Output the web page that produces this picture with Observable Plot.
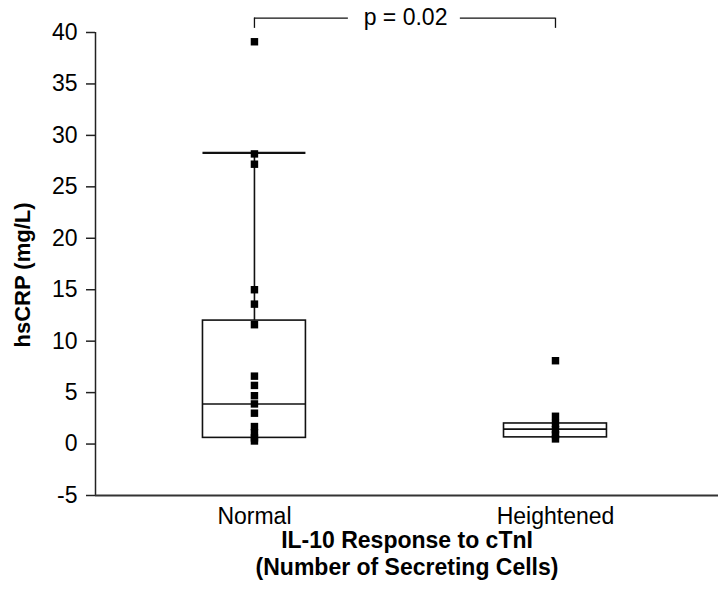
<!DOCTYPE html>
<html>
<head>
<meta charset="utf-8">
<script src="https://cdn.jsdelivr.net/npm/d3@7"></script>
<script src="https://cdn.jsdelivr.net/npm/@observablehq/plot@0.6"></script>
<style>
  html, body { margin: 0; padding: 0; background: #fff; }
</style>
</head>
<body>
<div id="chart"></div>
<script>
// ---- Data ----
const categories = ["Normal", "Heightened"];
const normalValues = [39.1, 28.2, 27.2, 15.0, 13.6, 11.6, 6.6, 5.7, 4.7, 3.9, 3.0, 1.7, 1.1, 0.6, 0.3];
const heightenedValues = [8.1, 2.7, 2.0, 1.4, 0.9, 0.5];
const boxQ1 = [0.6, 0.65];
const boxMedian = [3.9, 1.45];
const boxQ3 = [12.0, 2.0];
const whiskerHigh = [28.3, null];
const yTicks = [-5, 0, 5, 10, 15, 20, 25, 30, 35, 40];
const pLabel = "p = 0.02";
const yTitle = "hsCRP (mg/L)";
const xTitle = "IL-10 Response to cTnI\n(Number of Secreting Cells)";

// ---- Derived tables ----
const points = [
  ...normalValues.map(v => ({group: categories[0], value: v})),
  ...heightenedValues.map(v => ({group: categories[1], value: v}))
];
const boxes = categories.map((c, i) => ({i, q1: boxQ1[i], median: boxMedian[i], q3: boxQ3[i], hi: whiskerHigh[i]}));
const whiskers = boxes.filter(d => d.hi != null);
const idx = c => categories.indexOf(c);

const xMin = -0.528, xMax = 1.5415;
const hw = 0.171;
const bracketY = 41.4, bracketTick = 40.4;

const chart = Plot.plot({
  width: 726,
  height: 603,
  marginLeft: 95,
  marginRight: 8,
  marginTop: 32,
  marginBottom: 108,
  style: {fontFamily: "'Liberation Sans', Arial, sans-serif", fontSize: "23px", color: "#000", background: "#fff"},
  x: {domain: [xMin, xMax], axis: null},
  y: {domain: [-5, 40], axis: null},
  marks: [
    Plot.axisY(yTicks, {tickSize: 9, tickPadding: 9, fontSize: 23, tickFormat: d => String(d), label: null, strokeWidth: 1.5, stroke: "#222"}),
    Plot.ruleX([xMin], {y1: -5, y2: 40, stroke: "#222", strokeWidth: 1.5}),
    Plot.ruleY([-5], {stroke: "#333", strokeWidth: 2}),
    Plot.axisX([0, 1], {tickSize: 0, tickPadding: 12, tickFormat: i => categories[i], fontSize: 23, label: null}),
    // boxes
    Plot.rect(boxes, {x1: d => d.i - hw, x2: d => d.i + hw, y1: "q1", y2: "q3", fill: "none", stroke: "#111", strokeWidth: 1.6}),
    Plot.ruleY(boxes, {y: "median", x1: d => d.i - hw, x2: d => d.i + hw, stroke: "#111", strokeWidth: 1.6}),
    // whiskers
    Plot.ruleX(whiskers, {x: "i", y1: "q3", y2: "hi", stroke: "#111", strokeWidth: 1.6}),
    Plot.ruleY(whiskers, {y: "hi", x1: d => d.i - hw, x2: d => d.i + hw, stroke: "#111", strokeWidth: 2.2}),
    // points
    Plot.dot(points, {x: d => idx(d.group), y: "value", symbol: "square", r: 4.2, fill: "#000", stroke: "none"}),
    // significance bracket
    Plot.ruleY([bracketY], {x1: 0, x2: 0.312, stroke: "#111", strokeWidth: 1.3}),
    Plot.ruleY([bracketY], {x1: 0.684, x2: 1, stroke: "#111", strokeWidth: 1.3}),
    Plot.ruleX([0, 1], {y1: bracketTick, y2: bracketY, stroke: "#111", strokeWidth: 1.3}),
    Plot.text([pLabel], {x: 0.502, y: bracketY, fontSize: 23, fill: "#000"}),
    // titles
    Plot.text([yTitle], {frameAnchor: "left", textAnchor: "middle", rotate: -90, dx: -73, dy: 11, fontWeight: "bold", fontSize: 22, fill: "#000"}),
    Plot.text([xTitle], {frameAnchor: "bottom", textAnchor: "middle", lineAnchor: "top", dy: 33, lineHeight: 1.18, fontWeight: "bold", fontSize: 23, fill: "#000"})
  ]
});
document.getElementById("chart").appendChild(chart);
</script>
</body>
</html>
